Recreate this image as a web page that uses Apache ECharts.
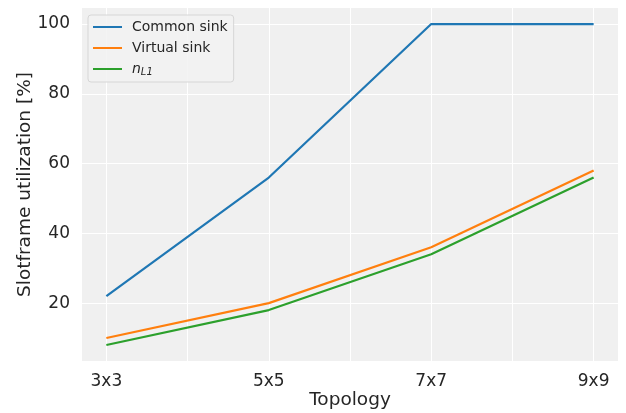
<!DOCTYPE html>
<html>
<head>
<meta charset="utf-8">
<script src="https://cdn.jsdelivr.net/npm/echarts@6/dist/echarts.min.js"></script>
<style>
  html, body { margin: 0; padding: 0; background: #fff; }
</style>
</head>
<body>
<div id="chart" style="width: 626px; height: 413px"></div>
<script>
// data
const topologies = ["3x3", "5x5", "7x7", "9x9"];
const commonSink = [22, 56, 100, 100];
const virtualSink = [10, 20, 36, 58];
const nL1 = [8, 18, 34, 56];
const yTicks = [20, 40, 60, 80, 100];
const xGridSteps = [0, 0.5, 1, 1.5, 2, 2.5, 3];

const textColor = "#262626";
const font = "DejaVu Sans";

const chart = echarts.init(document.getElementById("chart"));

function pairs(vals) {
  return vals.map((v, i) => [i, v]);
}

chart.setOption({
  animation: false,
  textStyle: { fontFamily: font },
  grid: {
    left: 82, right: 8, top: 8, bottom: 52,
    outerBoundsMode: "none",
    show: true, backgroundColor: "#f0f0f0", borderWidth: 0,
  },
  legend: {
    left: 88, top: 15,
    orient: "vertical",
    icon: "rect",
    itemWidth: 29, itemHeight: 2,
    itemGap: 7,
    backgroundColor: "rgba(242,242,242,0.85)",
    borderColor: "#d6d6d6", borderWidth: 1, borderRadius: 3,
    padding: [5, 6, 5, 5],
    textStyle: {
      fontFamily: font, fontSize: 14, color: textColor, padding: [0, 0, 0, 5],
      rich: {
        i: { fontFamily: font, fontSize: 14, fontStyle: "italic", color: textColor },
        s: { fontFamily: font, fontSize: 10, fontStyle: "italic", color: textColor, verticalAlign: "bottom", padding: [6, 0, 0, 0] },
      },
    },
    formatter: (name) => (name === "n_L1" ? "{i|n}{s|L1}" : name),
    data: ["Common sink", "Virtual sink", "n_L1"],
  },
  xAxis: {
    type: "value",
    min: -0.15, max: 3.15,
    name: "Topology",
    nameLocation: "middle",
    nameGap: 30,
    nameMoveOverlap: false,
    nameTextStyle: { fontFamily: font, fontSize: 18.5, color: textColor },
    axisLine: { show: false },
    axisTick: { show: false, customValues: xGridSteps },
    axisLabel: {
      customValues: [0, 1, 2, 3],
      formatter: (v) => topologies[Math.round(v)] ?? "",
      fontFamily: font, fontSize: 17, color: textColor, margin: 12,
    },
    splitLine: { show: true, lineStyle: { color: "#ffffff", width: 1 } },
  },
  yAxis: {
    type: "value",
    min: 3.4, max: 104.6,
    name: "Slotframe utilization [%]",
    nameLocation: "middle",
    nameGap: 47,
    nameMoveOverlap: false,
    nameTextStyle: { fontFamily: font, fontSize: 18.5, color: textColor },
    axisLine: { show: false },
    axisTick: { show: false, customValues: yTicks },
    axisLabel: {
      customValues: yTicks,
      fontFamily: font, fontSize: 17, color: textColor, margin: 12,
    },
    splitLine: { show: true, lineStyle: { color: "#ffffff", width: 1 } },
  },
  series: [
    {
      name: "Common sink", type: "line", data: pairs(commonSink),
      showSymbol: false, color: "#1f77b4", lineStyle: { width: 2.2 },
    },
    {
      name: "Virtual sink", type: "line", data: pairs(virtualSink),
      showSymbol: false, color: "#ff7f0e", lineStyle: { width: 2.2 },
    },
    {
      name: "n_L1", type: "line", data: pairs(nL1),
      showSymbol: false, color: "#2ca02c", lineStyle: { width: 2.2 },
    },
  ],
});
</script>
</body>
</html>
